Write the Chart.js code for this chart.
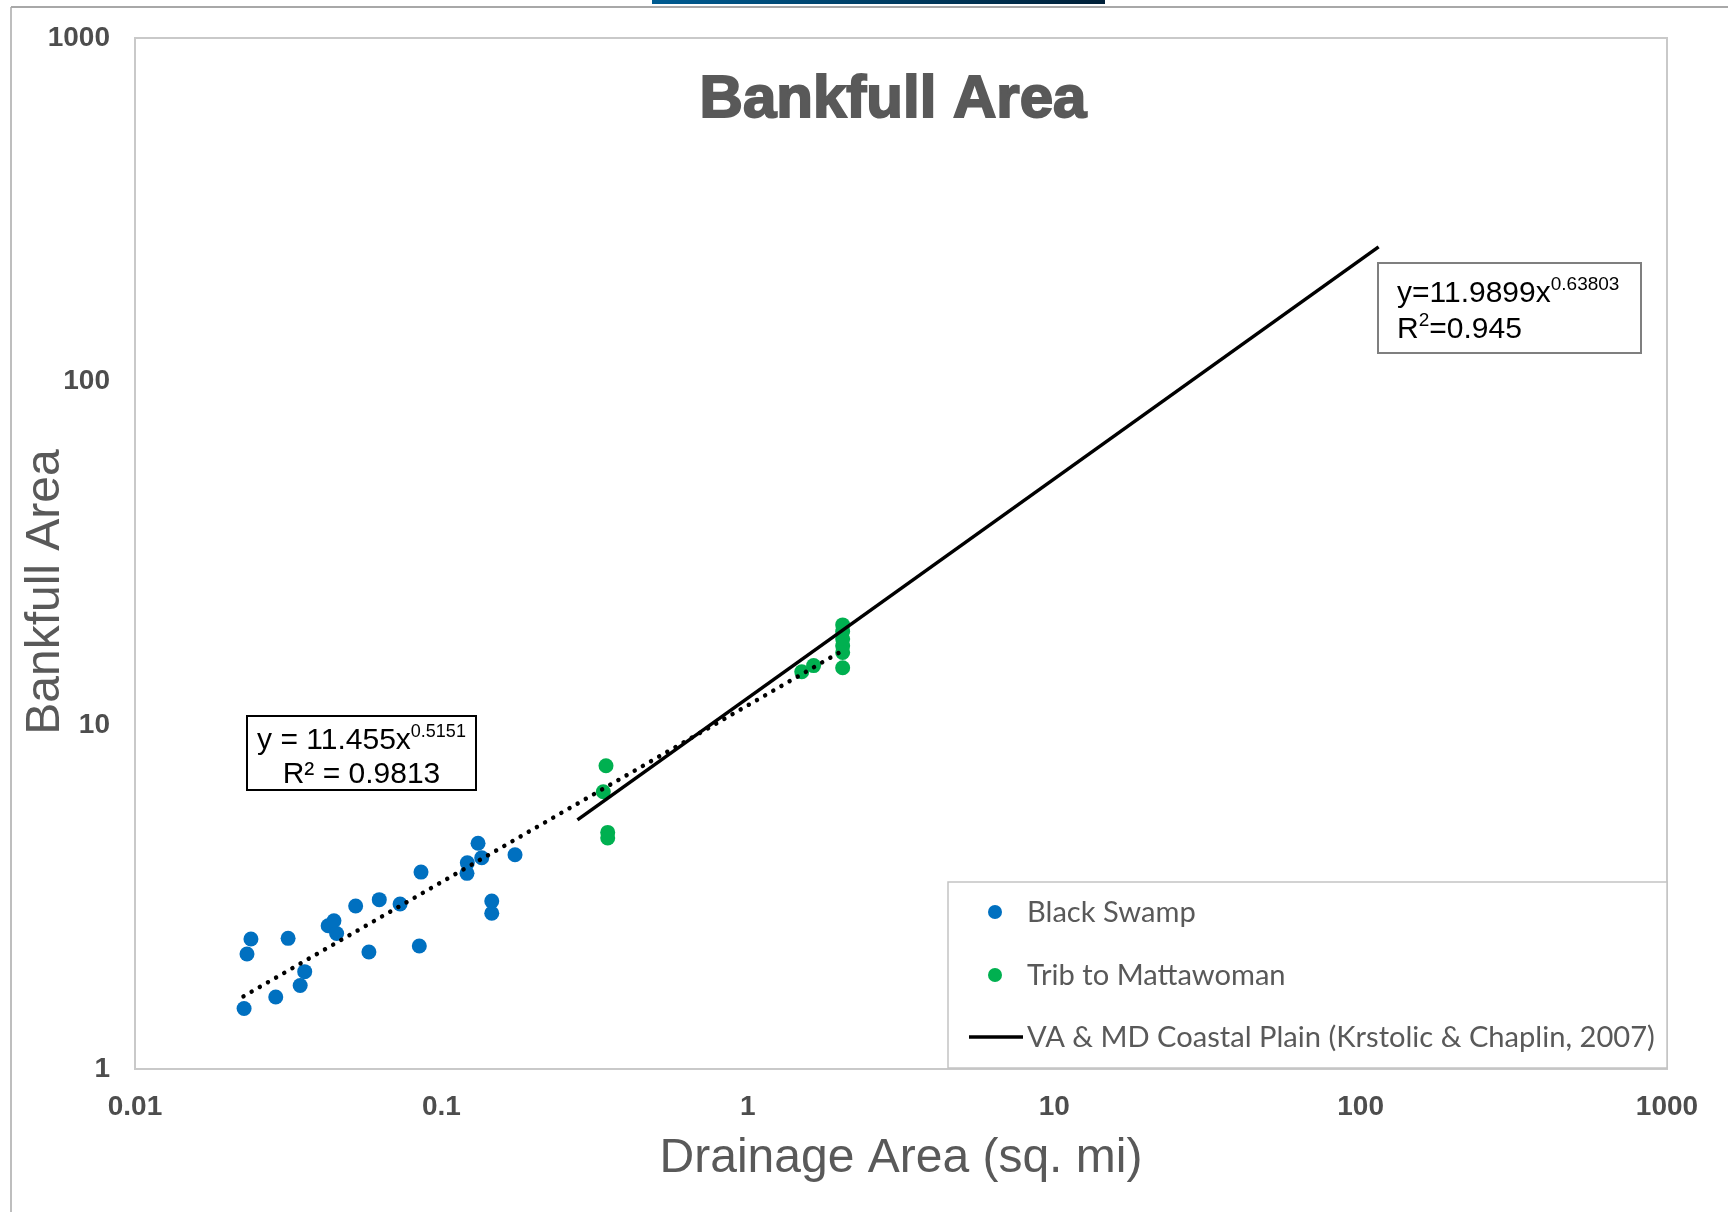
<!DOCTYPE html>
<html><head><meta charset="utf-8">
<script src="https://cdn.jsdelivr.net/npm/chart.js@4.4.1/dist/chart.umd.min.js"></script>
<style>html,body{margin:0;padding:0;background:#fff;overflow:hidden}#wrap{position:relative;width:1728px;height:1212px}</style>
</head><body><div id="wrap"><canvas id="c" width="1728" height="1212"></canvas></div>
<script>
// ---- data ----
const seriesNames = ['Black Swamp', 'Trib to Mattawoman', 'VA & MD Coastal Plain (Krstolic & Chaplin, 2007)'];
const blackSwampX = [0.0239, 0.0232, 0.0227, 0.0288, 0.0316, 0.0346, 0.0358, 0.0427, 0.0446, 0.0455, 0.0525, 0.0580, 0.0627, 0.0733, 0.0858, 0.0847, 0.1215, 0.1212, 0.1317, 0.1354, 0.1739, 0.1460, 0.1460];
const blackSwampY = [2.39, 2.16, 1.50, 1.62, 2.40, 1.75, 1.92, 2.61, 2.70, 2.48, 2.98, 2.19, 3.11, 3.02, 3.74, 2.28, 3.98, 3.71, 4.54, 4.12, 4.20, 3.08, 2.84];
const tribX = [0.3445, 0.3376, 0.349, 0.349, 1.50, 1.64, 2.04, 2.04, 2.04, 2.04, 2.04, 2.04];
const tribY = [7.63, 6.41, 4.88, 4.70, 14.32, 14.92, 19.6, 18.75, 17.83, 17.03, 16.30, 14.71];
const trendX = [0.0226, 2.04];       // power trendline of the local data (endpoints)
const trendY = [1.627, 16.5];
const regionalX = [0.278, 114.5];    // regional curve (endpoints)
const regionalY = [5.31, 246.8];
const xTicks = [0.01, 0.1, 1, 10, 100, 1000];
const xTickLabels = ['0.01', '0.1', '1', '10', '100', '1000'];
const yTicks = [1, 10, 100, 1000];
const yTickLabels = ['1', '10', '100', '1000'];
const chartTitle = 'Bankfull Area';
const xTitle = 'Drainage Area (sq. mi)';
const yTitle = 'Bankfull Area';
const eqLocal = ['y = 11.455x', '0.5151', 'R² = 0.9813'];
const eqRegional = ['y=11.9899x', '0.63803', 'R', '2', '=0.945'];

const pts = (xs, ys) => xs.map((x, i) => ({x, y: ys[i]}));
const GREY = '#595959';
const BLUE = '#0070C0';
const GREEN = '#00B050';

function runs(ctx, parts, x, y, align) {
  // parts: [text, fontSize, raise]
  let total = 0;
  parts.forEach(p => { ctx.font = p[1] + 'px "Liberation Sans", Arial, sans-serif'; total += ctx.measureText(p[0]).width; });
  let cx = align === 'center' ? x - total / 2 : x;
  ctx.textAlign = 'left'; ctx.textBaseline = 'alphabetic';
  parts.forEach(p => { ctx.font = p[1] + 'px "Liberation Sans", Arial, sans-serif'; ctx.fillText(p[0], cx, y - p[2]); cx += ctx.measureText(p[0]).width; });
}

const deco = {
  id: 'deco',
  beforeDraw(chart) {
    const ctx = chart.ctx; ctx.save();
    ctx.fillStyle = '#fff'; ctx.fillRect(0, 0, chart.width, chart.height);
    const g = ctx.createLinearGradient(652, 0, 1105, 0);
    g.addColorStop(0, '#005C92'); g.addColorStop(1, '#002038');
    ctx.fillStyle = g; ctx.fillRect(652, 0, 453, 4);
    ctx.strokeStyle = '#a8a8a8'; ctx.lineWidth = 2;
    ctx.beginPath(); ctx.moveTo(11, 7); ctx.lineTo(1728, 7); ctx.stroke();
    ctx.lineWidth = 1.5; ctx.beginPath(); ctx.moveTo(11, 7); ctx.lineTo(11, 1212); ctx.stroke();
    ctx.restore();
  },
  beforeDatasetsDraw(chart) {
    const ctx = chart.ctx, a = chart.chartArea; ctx.save();
    ctx.strokeStyle = '#c9c9c9'; ctx.lineWidth = 2;
    ctx.strokeRect(a.left, a.top, a.right - a.left, a.bottom - a.top);
    ctx.restore();
  },
  afterDraw(chart) {
    const ctx = chart.ctx, a = chart.chartArea; ctx.save();
    // title
    ctx.fillStyle = GREY; ctx.strokeStyle = GREY; ctx.lineWidth = 2;
    ctx.font = 'bold 60px "Liberation Sans", Arial, sans-serif';
    ctx.textAlign = 'center'; ctx.textBaseline = 'middle';
    ctx.fillText(chartTitle, 893, 100); ctx.strokeText(chartTitle, 893, 100);
    // axis titles
    ctx.font = '48px "Liberation Sans", Arial, sans-serif';
    ctx.fillText(xTitle, (a.left + a.right) / 2, 1159);
    ctx.save(); ctx.translate(46, 592); ctx.rotate(-Math.PI / 2); ctx.fillText(yTitle, 0, 0); ctx.restore();
    // local equation box
    ctx.fillStyle = '#fff'; ctx.fillRect(247, 716, 229, 74);
    ctx.strokeStyle = '#000'; ctx.lineWidth = 2; ctx.strokeRect(247, 716, 229, 74);
    ctx.fillStyle = '#000';
    runs(ctx, [[eqLocal[0], 30, 0], [eqLocal[1], 18, 12]], 361.5, 749, 'center');
    runs(ctx, [[eqLocal[2], 30, 0]], 361.5, 783, 'center');
    // regional equation box
    ctx.fillStyle = '#fff'; ctx.fillRect(1378, 263, 263, 90);
    ctx.strokeStyle = '#7f7f7f'; ctx.lineWidth = 2; ctx.strokeRect(1378, 263, 263, 90);
    ctx.fillStyle = '#000';
    runs(ctx, [[eqRegional[0], 30, 0], [eqRegional[1], 19, 12]], 1397, 302, 'left');
    runs(ctx, [[eqRegional[2], 30, 0], [eqRegional[3], 19, 12], [eqRegional[4], 30, 0]], 1397, 338, 'left');
    // legend
    const L = 948, T = 882, R = 1667, B = 1068;
    ctx.fillStyle = '#fff'; ctx.fillRect(L, T, R - L, B - T);
    ctx.strokeStyle = '#c4c4c4'; ctx.lineWidth = 1.5; ctx.strokeRect(L, T, R - L, B - T);
    let fs = 30;
    ctx.font = fs + 'px Lato, "Open Sans", sans-serif';
    fs = fs * 628 / ctx.measureText(seriesNames[2]).width;
    ctx.font = fs.toFixed(2) + 'px Lato, "Open Sans", sans-serif';
    ctx.textAlign = 'left'; ctx.textBaseline = 'middle'; ctx.fillStyle = GREY;
    const rows = [912, 975, 1037];
    const cols = [BLUE, GREEN];
    for (let i = 0; i < 2; i++) {
      ctx.fillStyle = cols[i]; ctx.beginPath(); ctx.arc(995, rows[i], 7, 0, Math.PI * 2); ctx.fill();
    }
    ctx.strokeStyle = '#000'; ctx.lineWidth = 3.5;
    ctx.beginPath(); ctx.moveTo(969, rows[2]); ctx.lineTo(1023, rows[2]); ctx.stroke();
    ctx.fillStyle = GREY;
    for (let i = 0; i < 3; i++) ctx.fillText(seriesNames[i], 1027, rows[i] + 1);
    ctx.restore();
  }
};

new Chart(document.getElementById('c'), {
  type: 'scatter',
  data: {
    datasets: [
      {label: 'trend', data: pts(trendX, trendY), showLine: true, pointRadius: 0, borderColor: '#000', borderWidth: 4.5, borderDash: [0.01, 9.4], borderCapStyle: 'round', order: 0},
      {label: seriesNames[2], data: pts(regionalX, regionalY), showLine: true, pointRadius: 0, borderColor: '#000', borderWidth: 3.5, order: 0},
      {label: seriesNames[0], data: pts(blackSwampX, blackSwampY), pointRadius: 7.5, pointBackgroundColor: BLUE, pointBorderWidth: 0, borderColor: BLUE, order: 1},
      {label: seriesNames[1], data: pts(tribX, tribY), pointRadius: 7.5, pointBackgroundColor: GREEN, pointBorderWidth: 0, borderColor: GREEN, order: 1}
    ]
  },
  options: {
    responsive: false, animation: false, devicePixelRatio: 1,
    layout: {padding: {left: 0, right: 61, top: 38, bottom: 0}},
    plugins: {legend: {display: false}, title: {display: false}, tooltip: {enabled: false}},
    scales: {
      x: {
        type: 'logarithmic', min: 0.01, max: 1000,
        grid: {display: false, drawTicks: false}, border: {display: false},
        afterBuildTicks: s => { s.ticks = xTicks.map(v => ({value: v})); },
        afterFit: s => { s.height = 143; s.paddingLeft = 0; s.paddingRight = 0; },
        ticks: {padding: 21, color: '#4d4d4d', font: {family: '"Liberation Sans", Arial, sans-serif', size: 28, weight: 'bold'},
          maxRotation: 0, autoSkip: false, callback: v => xTickLabels[xTicks.indexOf(v)] ?? ''}
      },
      y: {
        type: 'logarithmic', min: 1, max: 1000,
        grid: {display: false, drawTicks: false}, border: {display: false},
        afterBuildTicks: s => { s.ticks = yTicks.map(v => ({value: v})); },
        afterFit: s => { s.width = 135; s.paddingTop = 0; s.paddingBottom = 0; },
        ticks: {padding: 25, color: '#4d4d4d', font: {family: '"Liberation Sans", Arial, sans-serif', size: 28, weight: 'bold'},
          autoSkip: false, callback: v => yTickLabels[yTicks.indexOf(v)] ?? ''}
      }
    }
  },
  plugins: [deco]
});
</script></body></html>
